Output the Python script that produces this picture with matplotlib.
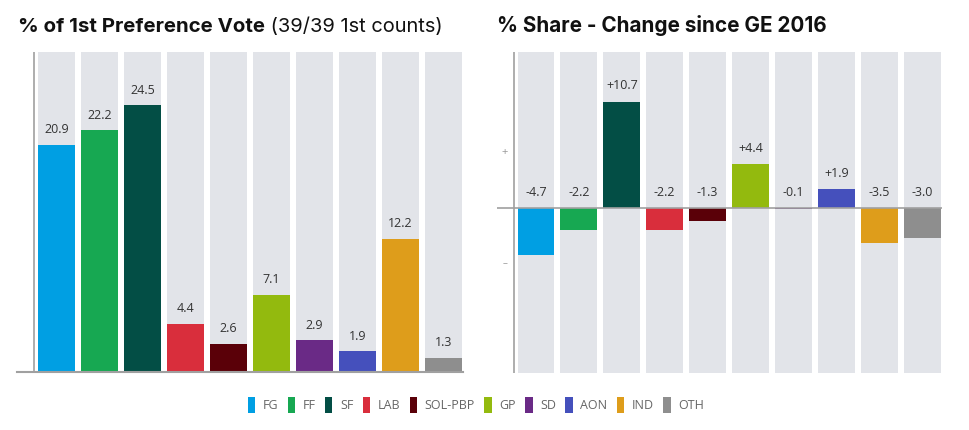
import matplotlib
matplotlib.use("Agg")
import matplotlib.pyplot as plt
from matplotlib.patches import Patch

parties = ["FG", "FF", "SF", "LAB", "SOL-PBP", "GP", "SD", "AON", "IND", "OTH"]
vote_share = [20.9, 22.2, 24.5, 4.4, 2.6, 7.1, 2.9, 1.9, 12.2, 1.3]
change = [-4.7, -2.2, 10.7, -2.2, -1.3, 4.4, -0.1, 1.9, -3.5, -3.0]
colors = ["#009FE3", "#17A852", "#034E45", "#D92E3C", "#5A0008",
          "#93BA0E", "#6A2A86", "#4550BC", "#DE9D1B", "#8E8E8E"]
title_left_bold = "% of 1st Preference Vote"
title_left_rest = " (39/39 1st counts)"
title_right = "% Share - Change since GE 2016"

W, H = 970, 430
fig = plt.figure(figsize=(W / 100, H / 100), dpi=100)
fig.patch.set_facecolor("white")

BG = "#E2E4E9"
AXC = "#A0A0A0"
TXT = "#333333"
LABEL_FONT = ["Open Sans", "DejaVu Sans"]
TITLE_FONT = ["Inter", "DejaVu Sans"]


def px_axes(l, r, t, b):
    return fig.add_axes([l / W, 1 - b / H, (r - l) / W, (b - t) / H])


x = list(range(len(parties)))
step = 43.0
bw = 37 / step

# ---- left panel ----
axL = px_axes(17, 463, 52, 372)
c0 = 56.5
axL.set_xlim((17 - c0) / step, (463 - c0) / step)
ytop = 29.4
axL.set_ylim(0, ytop)
axL.bar(x, [ytop] * len(x), width=bw, color=BG, zorder=1)
axL.bar(x, vote_share, width=bw, color=colors, zorder=2)
for xi, v in zip(x, vote_share):
    axL.annotate(f"{v:.1f}", (xi, v), xytext=(0, 11), textcoords="offset points",
                 ha="center", va="center", fontsize=9, color=TXT, family=LABEL_FONT)
axL.axvline((34 - c0) / step, color=AXC, lw=1.2, zorder=3)
for s in axL.spines.values():
    s.set_visible(False)
axL.spines["bottom"].set_visible(True)
axL.spines["bottom"].set_color(AXC)
axL.spines["bottom"].set_linewidth(1.5)
axL.set_xticks([])
axL.set_yticks([])

# ---- right panel ----
axR = px_axes(497, 942, 52, 373)
c1 = 536.0
step_r = 42.9
axR.set_xlim((497 - c1) / step_r, (942 - c1) / step_r)
ppu = 9.96
ymax = (208.3 - 52) / ppu
ymin = -(373 - 208.3) / ppu
axR.set_ylim(ymin, ymax)
axR.bar(x, [ymax - ymin] * len(x), bottom=ymin, width=bw, color=BG, zorder=1)
axR.bar(x, change, width=bw, color=colors, zorder=2)
for xi, v in zip(x, change):
    lab = f"+{v:.1f}" if v > 0 else f"{v:.1f}"
    axR.annotate(lab, (xi, max(v, 0)), xytext=(0, 11.5), textcoords="offset points",
                 ha="center", va="center", fontsize=9, color=TXT, family=LABEL_FONT)
axR.axhline(0, color=AXC, lw=1.2, zorder=3)
axR.axvline((514 - c1) / step_r, color=AXC, lw=1.2, zorder=3)
axR.text((505 - c1) / step_r, 5.6, "+", ha="center", va="center", fontsize=8,
         color="#999999", family=LABEL_FONT)
axR.text((505 - c1) / step_r, -5.6, "\u2013", ha="center", va="center", fontsize=7,
         color="#999999", family=LABEL_FONT)
for s in axR.spines.values():
    s.set_visible(False)
axR.set_xticks([])
axR.set_yticks([])

# ---- titles ----
t1 = fig.text(18 / W, 1 - 32 / H, title_left_bold, fontsize=14.7, fontweight="bold",
              color="#111111", family=TITLE_FONT, va="baseline", ha="left")
fig.canvas.draw()
bb = t1.get_window_extent()
fig.text(bb.x1 / W, 1 - 32 / H, title_left_rest, fontsize=14.4, fontweight="normal",
         color="#111111", family=TITLE_FONT, va="baseline", ha="left")
fig.text(497 / W, 1 - 32 / H, title_right, fontsize=14.9, fontweight="bold",
         color="#111111", family=TITLE_FONT, va="baseline", ha="left")

# ---- legend ----
handles = [Patch(facecolor=c, edgecolor="none") for c in colors]
leg = fig.legend(handles, parties, loc="center", bbox_to_anchor=(476 / W, 1 - 405 / H),
                 ncol=len(parties), frameon=False, handlelength=0.6, handleheight=1.6,
                 handletextpad=0.6, columnspacing=0.75, prop={"family": LABEL_FONT, "size": 9})
for t in leg.get_texts():
    t.set_color("#666666")

fig.savefig("out.png", dpi=100, facecolor="white")
